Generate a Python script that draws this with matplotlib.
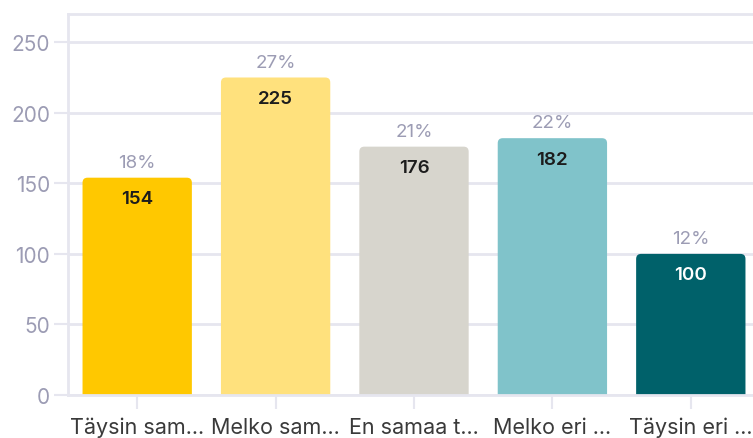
import matplotlib

matplotlib.use("Agg")

from matplotlib import pyplot as plt  # noqa: E402
from matplotlib.patches import FancyBboxPatch  # noqa: E402

CATEGORIES = ["Täysin sam...", "Melko sam...", "En samaa t...", "Melko eri ...", "Täysin eri ..."]
COUNTS = [154, 225, 176, 182, 100]
PERCENTS = ["18%", "27%", "21%", "22%", "12%"]
BAR_COLORS = ["#ffc800", "#ffe17d", "#d7d5cd", "#80c3ca", "#00616a"]
VALUE_COLORS = ["#1c1c1c", "#1c1c1c", "#1c1c1c", "#1c1c1c", "#ffffff"]
Y_TICKS = [0, 50, 100, 150, 200, 250]

GRID = "#e6e6ef"
TICK_TEXT = "#9c9cb4"
LABEL_TEXT = "#3a3a3a"

plt.rcParams["font.family"] = ["Inter", "DejaVu Sans"]

fig = plt.figure(figsize=(7.53, 4.39), dpi=100)
ax = fig.add_axes([68 / 753, 43 / 439, 692 / 753, 381 / 439])

bars = ax.bar(range(len(CATEGORIES)), COUNTS, width=0.79, color=BAR_COLORS)
ax.set_xlim(-0.5, len(CATEGORIES) - 0.5)
ax.set_ylim(0, 270)

# swap the plain rectangles for rounded ones (bottom corners hidden below 0)
px_x = 692 / 5
px_y = 381 / 270
radius = 5 / px_x
for bar, color in zip(bars, BAR_COLORS):
    bar.set_visible(False)
    x, w, h = bar.get_x(), bar.get_width(), bar.get_height()
    patch = FancyBboxPatch(
        (x, -10), w, h + 10,
        boxstyle=f"round,pad=0,rounding_size={radius}",
        mutation_aspect=px_x / px_y,
        facecolor=color, edgecolor="none", zorder=2,
    )
    ax.add_patch(patch)

for i, (count, pct) in enumerate(zip(COUNTS, PERCENTS)):
    ax.annotate(pct, (i, count), xytext=(0, 5), textcoords="offset points",
                ha="center", va="bottom", color=TICK_TEXT, fontsize=13.5)
    ax.annotate(str(count), (i, count), xytext=(0, -9), textcoords="offset points",
                ha="center", va="top", color=VALUE_COLORS[i], fontsize=13.5,
                fontweight="semibold")

ax.set_yticks(Y_TICKS)
ax.set_xticks(range(len(CATEGORIES)), CATEGORIES)
ax.grid(axis="y", color=GRID, linewidth=2)
ax.set_axisbelow(True)
ax.tick_params(axis="y", colors=GRID, labelcolor=TICK_TEXT, labelsize=15, length=10, width=1.5, pad=3)
ax.tick_params(axis="x", colors=GRID, labelcolor=LABEL_TEXT, labelsize=15.5, length=10, width=1.5, pad=5.5)
for name, spine in ax.spines.items():
    spine.set_color(GRID)
    spine.set_linewidth(2)
ax.spines["right"].set_visible(False)

fig.savefig("out.png", dpi=100, facecolor="white")
